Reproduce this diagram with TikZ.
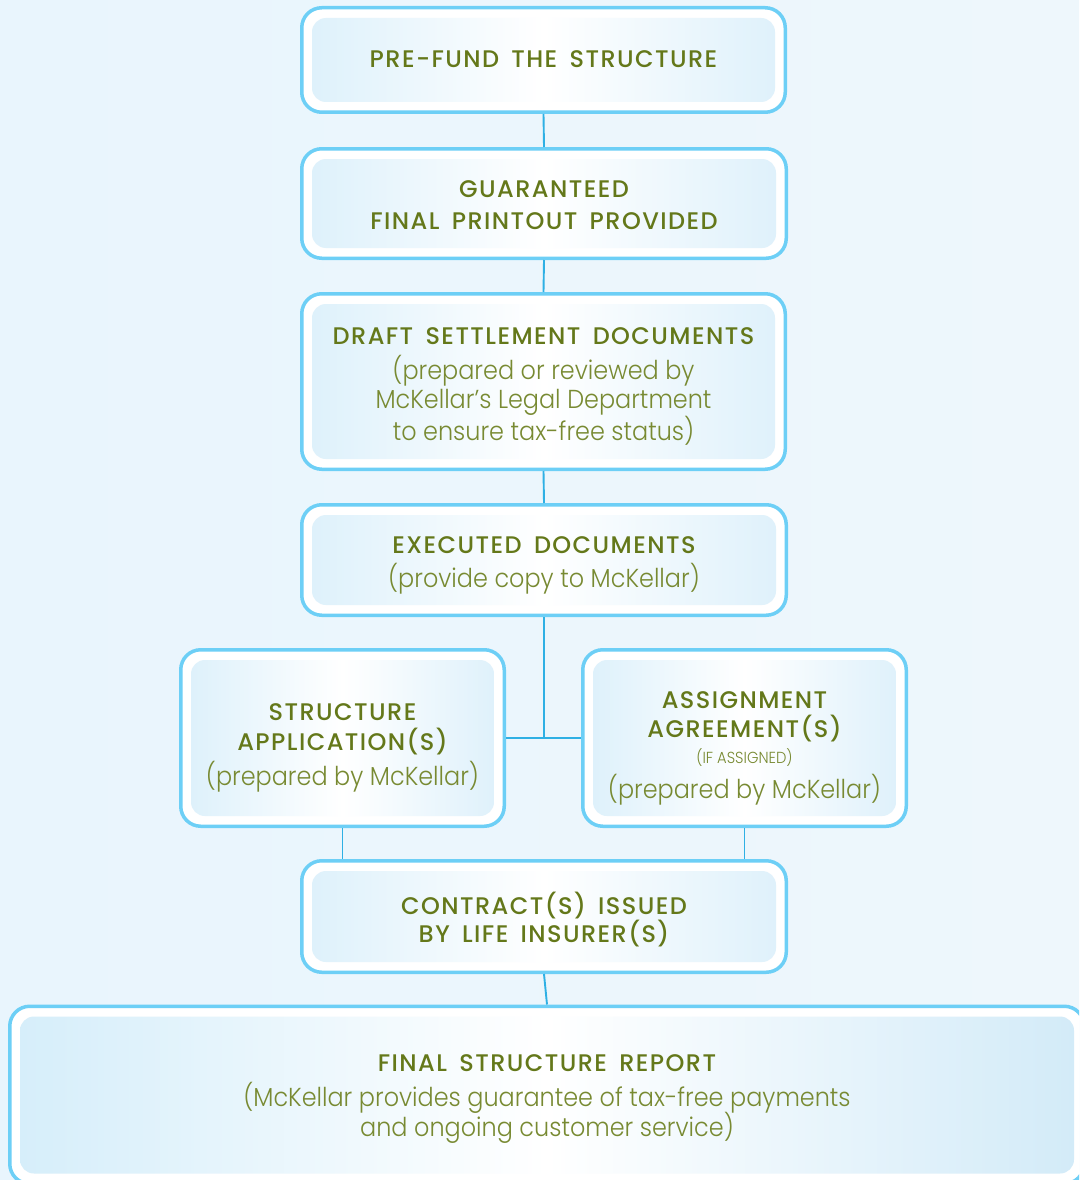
\documentclass[tikz,border=0pt]{standalone}
\usepackage{fontspec}
\setmainfont{Poppins}
\newfontfamily\lightf{Poppins Light}[FakeStretch=0.92]
\newfontfamily\medf{Poppins Medium}[LetterSpace=6, WordSpace=1.6]
\definecolor{boxblue}{HTML}{6DCFF6}
\definecolor{lineblue}{HTML}{2FB0E4}
\definecolor{innerl}{HTML}{DEF1FB}
\definecolor{innerr}{HTML}{DFF1FB}
\definecolor{finall}{HTML}{D6EEFA}
\definecolor{finalr}{HTML}{D3EBF8}
\definecolor{bgl}{HTML}{E9F5FD}
\definecolor{bgm}{HTML}{F9FCFE}
\definecolor{bgr}{HTML}{EEF7FC}
\definecolor{olivet}{HTML}{64781A}
\definecolor{olives}{HTML}{788A32}
\newcommand\titt{\medf\fontsize{24}{29.3}\selectfont\color{olivet}}
\newcommand\subt{\lightf\fontsize{26}{29.3}\selectfont\color{olives}}
\newcommand\smallt{\lightf\fontsize{16}{29.3}\selectfont\color{olives}}
\tikzset{
  outerbox/.style={draw=boxblue, line width=3.5pt, fill=white, rounded corners=20pt, inner sep=0pt},
  innerbox/.style={rounded corners=14pt, left color=innerl, right color=innerr, middle color=white, inner sep=0pt},
  finalbox/.style={left color=finall, right color=finalr, middle color=white},
  textnode/.style={inner sep=0pt, align=center, font=\fontsize{26}{29.3}\selectfont},
  conn/.style={draw=lineblue, line width=1.9pt}
}
% name, cx, cy, w, h, text, text shift, extra inner style
\newcommand\flowstep[8]{%
  \node[outerbox, minimum width=#4-3.5, minimum height=#5-3.5] (#1) at (#2,#3) {};
  \node[innerbox, #8, minimum width=#4-24, minimum height=#5-24] (#1-in) at (#1.center) {};
  \node[textnode] (#1-t) at ([yshift=#7]#1.center) {#6};
}
\begin{document}
\begin{tikzpicture}[x=1pt,y=-1pt]
\useasboundingbox (0,0) rectangle (1079,1180);
\clip (0,0) rectangle (1079,1180);
\shade[left color=bgl, middle color=bgm, right color=bgr] (0,0) rectangle (1079,1180);

\flowstep{b1}{543.5}{60}{487}{108}{{\titt PRE-FUND THE STRUCTURE}}{1pt}{}
\flowstep{b2}{544}{203.5}{488}{113}{{\titt GUARANTEED}\\[2.7pt]{\titt FINAL PRINTOUT PROVIDED}}{-1.5pt}{}
\flowstep{b3}{543.5}{381.5}{487}{179}{{\titt DRAFT SETTLEMENT DOCUMENTS}\\[5.7pt]{\subt (prepared or reviewed by}\\{\subt McKellar’s Legal Department}\\{\subt to ensure tax-free status)}}{-5pt}{}
\flowstep{b4}{544}{560}{488}{114}{{\titt EXECUTED DOCUMENTS}\\[5.2pt]{\subt (provide copy to McKellar)}}{-5.5pt}{}
\flowstep{bl}{342.5}{738}{327}{180}{{\titt STRUCTURE}\\{\titt APPLICATION(S)}\\[6pt]{\subt (prepared by McKellar)}}{-10pt}{}
\flowstep{br}{744.5}{738}{327}{180}{{\titt ASSIGNMENT}\\{\titt AGREEMENT(S)}\\[-3.8pt]{\smallt (IF ASSIGNED)}\\[6pt]{\subt (prepared by McKellar)}}{-10.5pt}{}
\flowstep{b7}{544}{916.5}{488}{115}{{\titt CONTRACT(S) ISSUED}\\[-0.5pt]{\titt BY LIFE INSURER(S)}}{-3pt}{}
\flowstep{b8}{547}{1095}{1078}{181}{{\titt FINAL STRUCTURE REPORT}\\[6.2pt]{\subt (McKellar provides guarantee of tax-free payments}\\[-2.3pt]{\subt and ongoing customer service)}}{-3.8pt}{finalbox}

\draw[conn] (b1.south) -- (b2.north);
\draw[conn] (b2.south) -- (b3.north);
\draw[conn] (b3.south) -- (b4.north);
\draw[conn] (b4.south) -- (b4.south |- bl.east);
\draw[conn] (bl.east) -- (br.west);
\draw[conn] (bl.south) -- (bl.south |- b7.north);
\draw[conn] (br.south) -- (br.south |- b7.north);
\draw[conn] (b7.south) -- (b8.north);
\end{tikzpicture}
\end{document}
